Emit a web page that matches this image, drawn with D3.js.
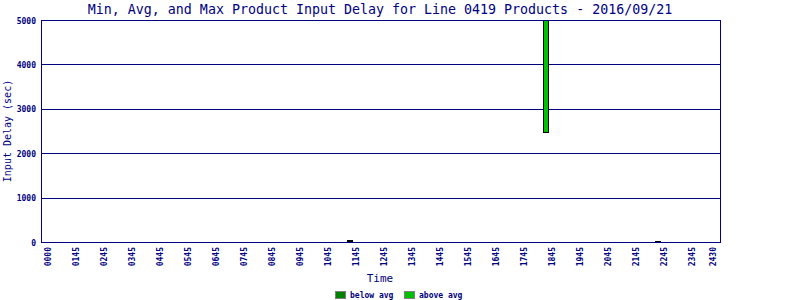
<!DOCTYPE html>
<html><head><meta charset="utf-8">
<script src="https://cdn.jsdelivr.net/npm/d3@7/dist/d3.min.js"></script>
<style>body{margin:0;background:#fff}svg{display:block}</style>
</head><body>
<script>
// Data
const barTimes = [692, 1112, 1352];        // minutes of day (bar centre)
const minVals  = [0, 2450, 0];
const avgVals  = [0, 2450, 0];
const maxVals  = [40, 5000, 20];
const tickMinutes = [45,105,165,225,285,345,405,465,525,585,645,705,765,825,885,945,1005,1065,1125,1185,1245,1305,1365,1425,1470];
const tickLabels = ["0000","0145","0245","0345","0445","0545","0645","0745","0845","0945","1045","1145","1245","1345","1445","1545","1645","1745","1845","1945","2045","2145","2245","2345","2430"];
const yTicks = [0,1000,2000,3000,4000,5000];
const legendItems = ["below avg","above avg"];
const legendColors = ["#008000","#00c000"];

const W=800,H=300, L=41,R=720,T=20,B=242;
const navy="#000080";
const svg=d3.select("body").append("svg").attr("width",W).attr("height",H);
const x=d3.scaleLinear().domain([30,1485]).range([L,R]);
const y=d3.scaleLinear().domain([0,5000]).range([B,T]);

svg.append("text").attr("x",380).attr("y",14).attr("text-anchor","middle")
  .attr("font-family","DejaVu Sans Mono").attr("font-size",13.3).attr("fill",navy)
  .text("Min, Avg, and Max Product Input Delay for Line 0419 Products - 2016/09/21");

// grid
svg.append("g").selectAll("line").data(yTicks).join("line")
  .attr("x1",L).attr("x2",R).attr("y1",d=>Math.round(y(d))+0.5).attr("y2",d=>Math.round(y(d))+0.5)
  .attr("stroke",navy).attr("stroke-width",1);

// y axis labels
const yAxis=d3.axisLeft(y).tickValues(yTicks).tickSize(0).tickPadding(5).tickFormat(d3.format("d"));
const ga=svg.append("g").attr("transform",`translate(${L},0.5)`).call(yAxis);
ga.select(".domain").remove();
ga.selectAll("text").attr("font-family","DejaVu Sans Mono").attr("font-weight","bold").attr("font-size",8).attr("fill",navy);

// x axis labels
const xAxis=d3.axisBottom(x).tickValues(tickMinutes).tickSize(0).tickFormat((d,i)=>tickLabels[i]);
const gx=svg.append("g").attr("transform",`translate(0,${B})`).call(xAxis);
gx.select(".domain").remove();
gx.selectAll("text").attr("font-family","DejaVu Sans Mono").attr("font-weight","bold").attr("font-size",8).attr("fill",navy)
  .attr("text-anchor","end").attr("transform","rotate(-90)").attr("x",-5).attr("y",0).attr("dy","0.35em");

// bars
const bw=13;
const bars=svg.append("g");
barTimes.forEach((t,i)=>{
  const x0=Math.round(x(t-bw/2)), x1=Math.round(x(t+bw/2));
  // below avg
  const yMin=Math.round(y(minVals[i])), yAvg=Math.round(y(avgVals[i])), yMax=Math.round(y(maxVals[i]));
  if(yMin>yAvg) bars.append("rect").attr("x",x0+0.5).attr("y",yAvg+0.5).attr("width",x1-x0-1).attr("height",yMin-yAvg)
     .attr("fill",legendColors[0]).attr("stroke","#000");
  bars.append("rect").attr("x",x0+0.5).attr("y",yMax+0.5).attr("width",x1-x0-1).attr("height",Math.max(1,yAvg-yMax-1))
     .attr("fill",legendColors[1]).attr("stroke","#000");
});

// frame
svg.append("rect").attr("x",L+0.5).attr("y",T+0.5).attr("width",R-L).attr("height",B-T)
  .attr("fill","none").attr("stroke",navy);

svg.append("text").attr("x",380).attr("y",282).attr("text-anchor","middle")
  .attr("font-family","DejaVu Sans Mono").attr("font-size",11).attr("fill",navy).text("Time");
svg.append("text").attr("transform","translate(11,131) rotate(-90)").attr("text-anchor","middle")
  .attr("font-family","DejaVu Sans Mono").attr("font-size",10).attr("fill",navy).text("Input Delay (sec)");

// legend
const lg=svg.append("g");
const lx=[335,404];
legendItems.forEach((s,i)=>{
  lg.append("rect").attr("x",lx[i]+0.5).attr("y",291.5).attr("width",10).attr("height",7)
    .attr("fill",legendColors[i]).attr("stroke","#808080");
  lg.append("text").attr("x",lx[i]+15).attr("y",298).attr("font-family","DejaVu Sans Mono").attr("font-weight","bold")
    .attr("font-size",8).attr("fill",navy).text(s);
});
</script>
</body></html>
